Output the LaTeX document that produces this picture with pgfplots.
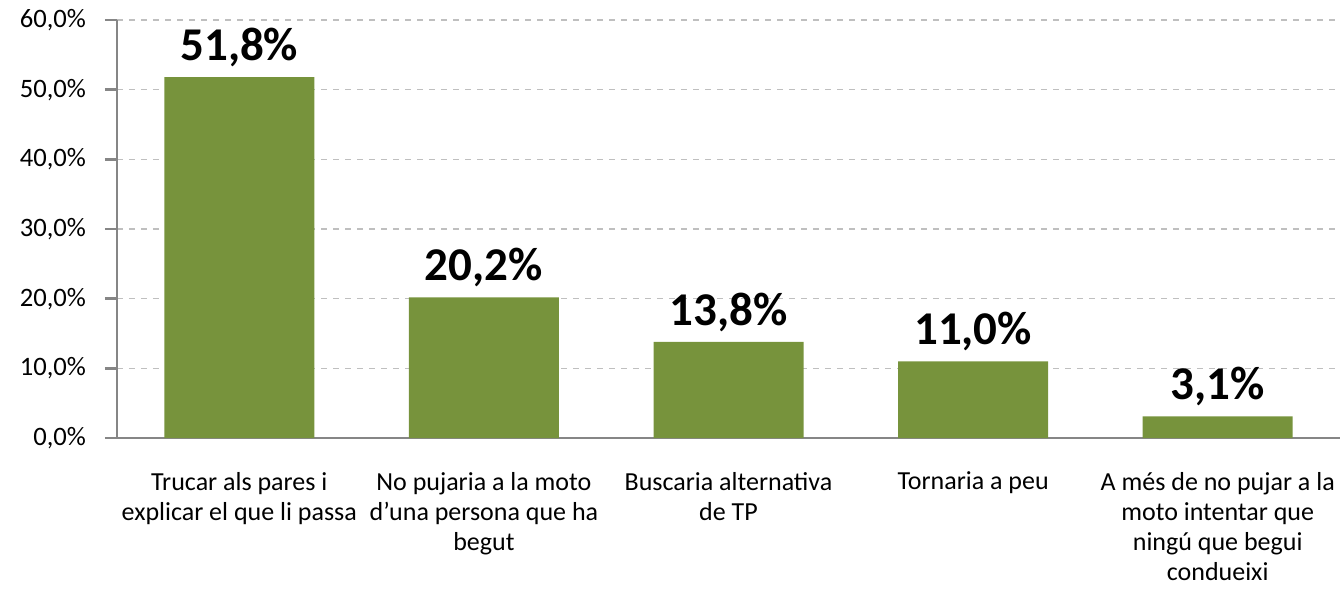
\documentclass[border=0pt]{standalone}
\usepackage{fontspec}
\setmainfont{Carlito}
\usepackage{pgfplots}
\pgfplotsset{compat=1.18}
\usetikzlibrary{calc}
\definecolor{barg}{HTML}{77933C}
\definecolor{axg}{HTML}{868686}
\definecolor{gridg}{HTML}{BFBFBF}
\begin{document}
\begin{tikzpicture}
\begin{axis}[
 scale only axis,width=611.5pt,height=209pt,
 xmin=-0.5,xmax=4.5,ymin=0,ymax=60,
 axis lines*=left,
 axis line style={axg,line width=1.2pt},
 ybar,bar width=75pt,
 xtick={0,1,2,3,4},
 xticklabels={{Trucar als pares i\\explicar el que li passa},
  {No pujaria a la moto\\d'una persona que ha\\begut},
  {Buscaria alternativa\\de TP},
  {Tornaria a peu},
  {A més de no pujar a la\\moto intentar que\\ningú que begui\\condueixi}},
 xticklabel style={align=center,font=\fontsize{13}{15}\selectfont,anchor=north,yshift=-7.5pt},
 major x tick style={draw=none},
 extra x ticks={-0.5,0.5,1.5,2.5,3.5,4.5},
 extra x tick labels={},
 extra x tick style={major tick length=7pt,tick style={axg,line width=1.2pt},tick align=outside,grid=none},
 ytick={0,10,20,30,40,50,60},
 yticklabels={{0,0\%},{10,0\%},{20,0\%},{30,0\%},{40,0\%},{50,0\%},{60,0\%}},
 yticklabel style={font=\fontsize{13.3}{15}\selectfont,xshift=-6pt},
 tick align=outside,major tick length=6pt,
 ytick style={axg,line width=1.2pt},
 ymajorgrids=true,grid style={gridg,dashed,line width=0.7pt},
 point meta=explicit symbolic,
 nodes near coords,
 every node near coord/.append style={font=\fontsize{23.5}{26}\selectfont\bfseries,yshift=1.5pt},
 clip=false,
]
\addplot[fill=barg,draw=none] coordinates {
 (0,51.8) [51,8\%]
 (1,20.2) [20,2\%]
 (2,13.8) [13,8\%]
 (3,11.0) [11,0\%]
 (4,3.1) [3,1\%]
};
\coordinate (o) at (rel axis cs:0,0);
\end{axis}
\pgfresetboundingbox
\path ($(o)+(-58.5pt,-75.5pt)$) rectangle ($(o)+(613pt,219pt)$);
\end{tikzpicture}
\end{document}
